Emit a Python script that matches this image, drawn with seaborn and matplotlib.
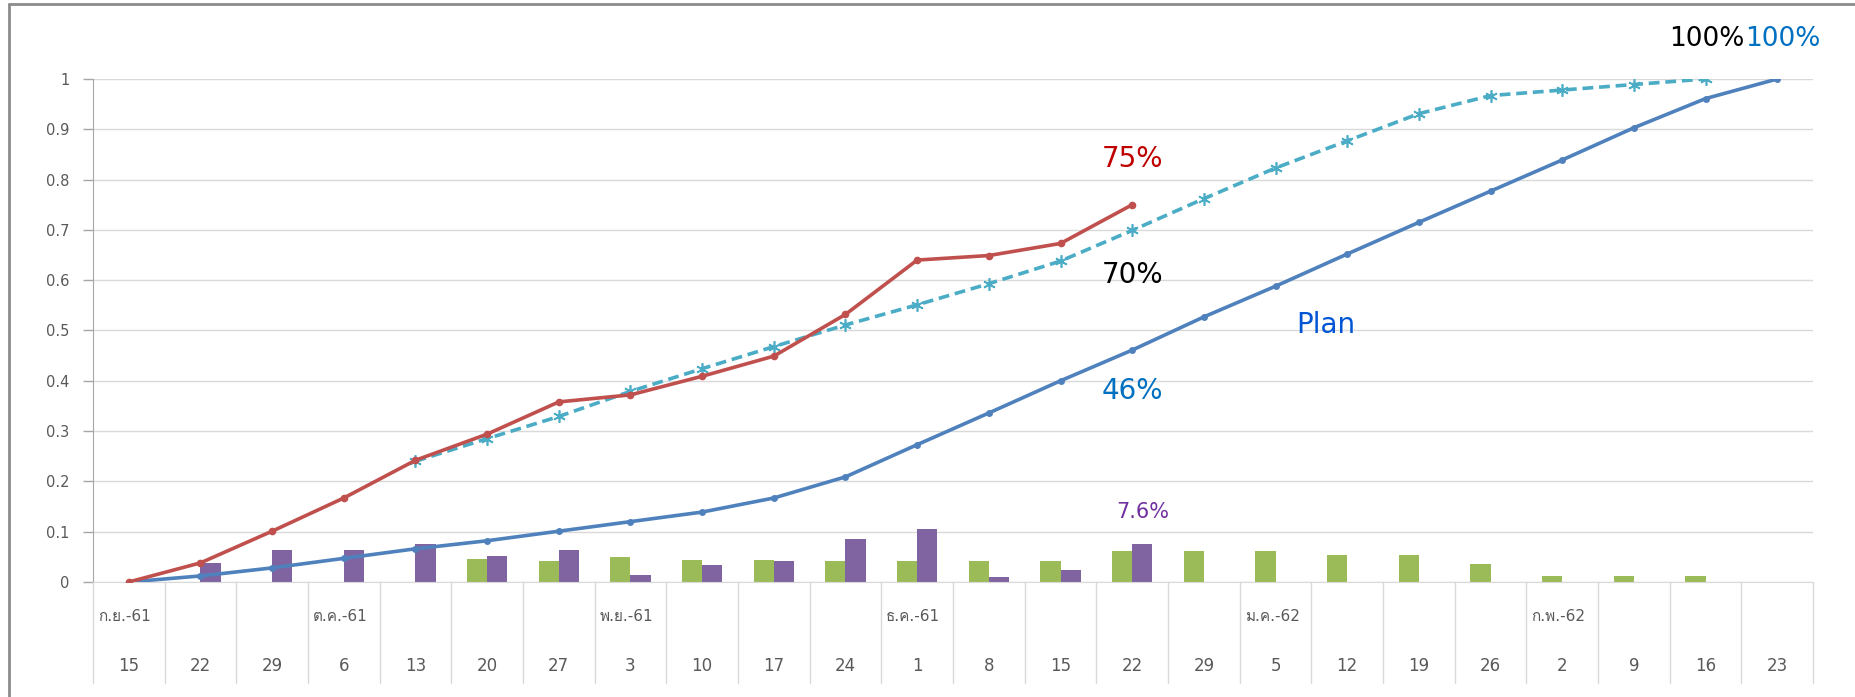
import numpy as np
import pandas as pd
import matplotlib
matplotlib.use('Agg')
import matplotlib.pyplot as plt
import matplotlib.transforms as mtransforms
from matplotlib import font_manager, ft2font
import seaborn as sns

# Data
days = [15, 22, 29, 6, 13, 20, 27, 3, 10, 17, 24, 1, 8, 15, 22, 29, 5, 12, 19, 26, 2, 9, 16, 23]
month_labels = {0: 'ก.ย.-61', 3: 'ต.ค.-61', 7: 'พ.ย.-61', 11: 'ธ.ค.-61', 16: 'ม.ค.-62', 20: 'ก.พ.-62'}

plan = [0.0, 0.012, 0.028, 0.047, 0.066, 0.082, 0.101, 0.120, 0.139, 0.167, 0.209, 0.273,
        0.336, 0.400, 0.461, 0.527, 0.588, 0.652, 0.715, 0.777, 0.839, 0.903, 0.961, 1.0]
actual = [0.0, 0.038, 0.101, 0.167, 0.242, 0.294, 0.358, 0.372, 0.409, 0.449, 0.532, 0.640,
          0.649, 0.673, 0.750]
forecast_start = 4
forecast = [0.240, 0.285, 0.329, 0.379, 0.424, 0.468, 0.511, 0.551, 0.593, 0.638, 0.699,
            0.762, 0.823, 0.877, 0.931, 0.967, 0.978, 0.989, 1.0]

weekly_plan = [0, 0, 0, 0, 0, 0.045, 0.042, 0.049, 0.044, 0.044, 0.042, 0.042, 0.042, 0.042,
               0.061, 0.061, 0.061, 0.053, 0.053, 0.035, 0.011, 0.011, 0.011, 0]
weekly_actual = [0, 0.037, 0.063, 0.063, 0.075, 0.051, 0.063, 0.014, 0.034, 0.042, 0.085,
                 0.106, 0.009, 0.023, 0.076, 0, 0, 0, 0, 0, 0, 0, 0, 0]


def find_thai_font():
    """Return the name of an installed font that has Thai glyphs, if any"""
    for f in font_manager.fontManager.ttflist:
        try:
            if 0x0E01 in ft2font.FT2Font(f.fname).get_charmap():
                return f.name
        except Exception:
            pass
    return None


sns.set_style('white')
thai_font = find_thai_font()
families = ['DejaVu Sans'] + ([thai_font] if thai_font else [])
plt.rcParams['font.family'] = families

n = len(days)
bars_df = pd.DataFrame({
    'idx': list(range(n)) * 2,
    'value': weekly_plan + weekly_actual,
    'series': ['plan'] * n + ['actual'] * n,
})

fig = plt.figure(figsize=(18.55, 6.97), dpi=100)
ax = fig.add_axes([0.0501, 0.165, 0.9273, 0.7217])

sns.barplot(data=bars_df, x='idx', y='value', hue='series', order=list(range(n)),
            hue_order=['plan', 'actual'], palette={'plan': '#9BBB59', 'actual': '#8064A2'},
            width=0.56, linewidth=0, saturation=1, legend=False, ax=ax, zorder=2)

sns.lineplot(x=np.arange(n), y=plan, color='#4F81BD', linewidth=2.6, marker='o',
             markersize=5, markeredgewidth=0, ax=ax, zorder=3)
sns.lineplot(x=np.arange(forecast_start, forecast_start + len(forecast)), y=forecast,
             color='#4BACC6', linewidth=2.6, linestyle=(0, (3, 1.6)), marker=(6, 2, 0),
             markersize=9, markeredgewidth=1.2, markeredgecolor='#4BACC6', ax=ax, zorder=4)
sns.lineplot(x=np.arange(len(actual)), y=actual, color='#C0504D', linewidth=2.6, marker='o',
             markersize=5.5, markeredgewidth=0, ax=ax, zorder=5)

ax.set_xlim(-0.5, n - 0.5)
ax.set_ylim(0, 1)
ax.set_yticks(np.arange(0, 1.01, 0.1))
ax.set_yticklabels(['0', '0.1', '0.2', '0.3', '0.4', '0.5', '0.6', '0.7', '0.8', '0.9', '1'])
ax.tick_params(axis='y', length=7, width=1, color='#A6A6A6', labelsize=10.5,
               labelcolor='#595959', pad=10, left=True)
ax.grid(axis='y', color='#D9D9D9', linewidth=1, zorder=0)
ax.set_axisbelow(True)
for side in ['top', 'right']:
    ax.spines[side].set_visible(False)
ax.spines['left'].set_color('#A6A6A6')
ax.spines['bottom'].set_color('#D9D9D9')
ax.set_xticks([])
ax.set_xlabel('')
ax.set_ylabel('')

# Two-level category axis
trans = mtransforms.blended_transform_factory(ax.transData, ax.transAxes)
for i in range(n + 1):
    ax.plot([i - 0.5, i - 0.5], [0, -0.2], transform=trans, color='#D9D9D9',
            linewidth=1, clip_on=False)
for i, d in enumerate(days):
    ax.text(i, -0.167, str(d), transform=trans, ha='center', va='center',
            fontsize=12, color='#595959')
for i, label in month_labels.items():
    ax.text(i - 0.43, -0.068, label, transform=trans, ha='left', va='center',
            fontsize=11, color='#595959')

# Annotations
ax.text(14.0, 0.84, '75%', color='#C00000', fontsize=20, ha='center', va='center', clip_on=False)
ax.text(14.0, 0.61, '70%', color='black', fontsize=20, ha='center', va='center', clip_on=False)
ax.text(14.0, 0.379, '46%', color='#0070C0', fontsize=20, ha='center', va='center', clip_on=False)
ax.text(16.7, 0.51, 'Plan', color='#0055D4', fontsize=20, ha='center', va='center', clip_on=False)
ax.text(14.15, 0.139, '7.6%', color='#7030A0', fontsize=15, ha='center', va='center', clip_on=False)
ax.text(22.55, 1.08, '100%', color='black', fontsize=19, ha='right', va='center', clip_on=False)
ax.text(22.55, 1.08, '100%', color='#0070C0', fontsize=19, ha='left', va='center', clip_on=False)

# Chart frame (left and top edges visible in the reference)
fig.add_artist(plt.Line2D([0.005, 0.005], [0.0, 0.994], transform=fig.transFigure,
                          color='#8C8C8C', linewidth=2))
fig.add_artist(plt.Line2D([0.005, 1.0], [0.994, 0.994], transform=fig.transFigure,
                          color='#8C8C8C', linewidth=2))

fig.savefig('out.png', dpi=100)
